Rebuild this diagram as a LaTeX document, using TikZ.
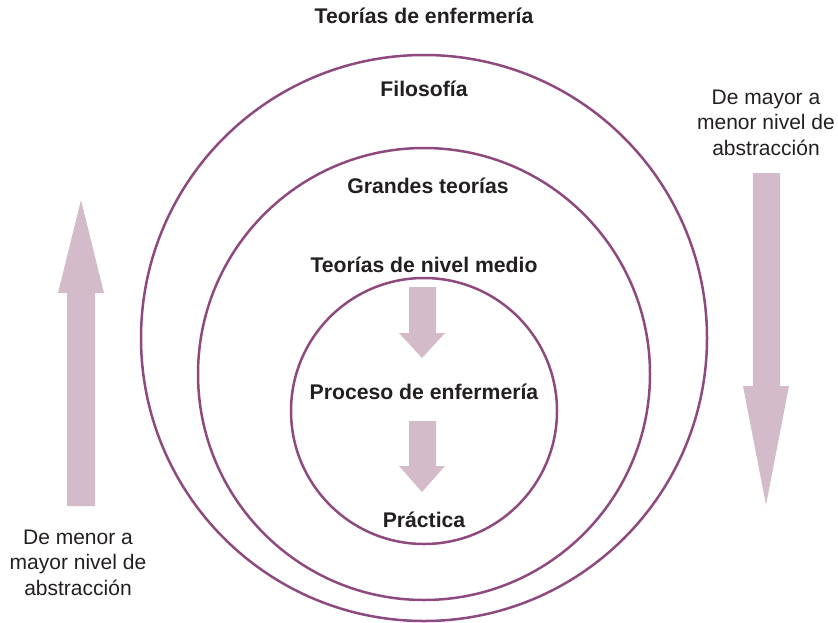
\documentclass[tikz,border=0pt]{standalone}
\usepackage{fontspec}
\setmainfont{Liberation Sans}
\usetikzlibrary{positioning}
\definecolor{circulo}{RGB}{142,74,126}
\definecolor{flechaclara}{RGB}{212,187,202}
\definecolor{texto}{RGB}{35,31,32}

\begin{document}
\begin{tikzpicture}[x=1pt,y=-1pt,
    nivel/.style={circle,draw=circulo,line width=2.5pt,inner sep=0pt},
    titulo/.style={font=\bfseries\fontsize{21.2}{24}\selectfont,text=texto,anchor=base,inner sep=0pt},
    nota/.style={font=\fontsize{21}{25.5}\selectfont,text=texto,align=center,anchor=base,inner sep=0pt},
    flecha/.style={fill=flechaclara,draw=none}]

\useasboundingbox (0,0) rectangle (838,622);

% niveles
\node[nivel,minimum size=566pt] (externo) at (424,338) {};
\node[nivel,minimum size=452pt] (medio)   at (424,374) {};
\node[nivel,minimum size=266pt] (interno) at (424,411) {};

% textos
\node[titulo] (teorias)   at (424,23)  {Teorías de enfermería};
\node[titulo] (filosofia) at (424,96)  {Filosofía};
\node[titulo] (grandes)   at (428,193) {Grandes teorías};
\node[titulo] (mediano)   at (424,272) {Teorías de nivel medio};
\node[titulo] (proceso)   at (424,399) {Proceso de enfermería};
\node[titulo] (practica)  at (424,527) {Práctica};

% base = ultima linea
\node[nota] (ascenso)  at (78,595)  {De menor a\\mayor nivel de\\abstracción};
\node[nota] (descenso) at (766,155) {De mayor a\\menor nivel de\\abstracción};

% flechas
\fill[flecha] (67,506) -- (67,293) -- (58,293) -- (81,200) -- (104,293) -- (95,293) -- (95,506) -- cycle;
\fill[flecha] (753,173) -- (753,386) -- (743,386) -- (766,505) -- (789,386) -- (780,386) -- (780,173) -- cycle;
\fill[flecha] (409,287) -- (409,333) -- (399,333) -- (422,358) -- (445,333) -- (436,333) -- (436,287) -- cycle;
\fill[flecha] (409,421) -- (409,466) -- (399,466) -- (422,492) -- (445,466) -- (436,466) -- (436,421) -- cycle;

\end{tikzpicture}
\end{document}
